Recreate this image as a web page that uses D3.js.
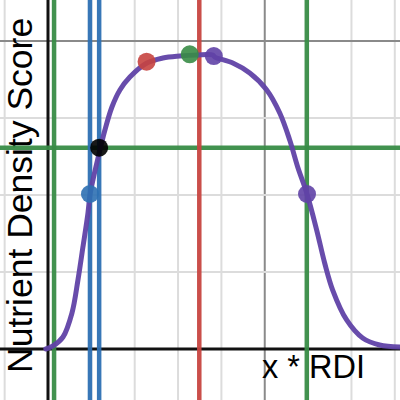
<!DOCTYPE html>
<html>
<head>
<meta charset="utf-8">
<script src="https://cdn.jsdelivr.net/npm/d3@7"></script>
<style>
html,body{margin:0;padding:0;background:#fff;}
svg{display:block;}
</style>
</head>
<body>
<svg id="chart" width="400" height="400"></svg>
<script>
// ---- data (graph units) ----
const curveX = [-0.05, 0.115, 0.346, 0.553, 0.691, 0.806, 0.922, 0.968, 1.037, 1.198, 1.313, 1.475, 1.659, 1.889, 2.281, 2.65, 3.041, 3.433, 3.802, 3.848, 4.263, 4.654, 5.046, 5.346, 5.576, 5.76, 5.968, 6.198, 6.382, 6.567, 6.889, 7.258, 7.65, 8.11];
const curveY = [0.0, 0.04, 0.156, 0.468, 0.896, 1.325, 1.766, 2.0, 2.195, 2.584, 2.844, 3.143, 3.364, 3.532, 3.714, 3.779, 3.805, 3.818, 3.818, 3.792, 3.714, 3.584, 3.364, 3.065, 2.714, 2.364, 2.026, 1.545, 1.117, 0.766, 0.377, 0.143, 0.052, 0.026];

const pointX = [0.968, 1.18, 2.274, 3.27, 3.825, 5.975];
const pointY = [2.013, 2.614, 3.731, 3.827, 3.805, 2.013];
const pointColor = ["#2d70b3", "#000000", "#c74440", "#388c46", "#6042a6", "#6042a6"];

const vLineX = [0.14, 0.968, 1.18, 3.49, 5.97];
const vLineColor = ["#388c46", "#2d70b3", "#2d70b3", "#c74440", "#388c46"];
const hLineY = [2.614];
const hLineColor = ["#388c46"];

const xGrid = [-1, 1, 2, 3, 4, 5, 6, 7, 8];
const xMajor = [5];
const yGrid = [1, 2, 3, 4];
const yMajor = [4];

const yLabel = "Nutrient Density Score";
const xLabel = "x * RDI";

// ---- scales ----
const W = 400, H = 400;
const pxX = 43.35, pxY = 77;
const x0 = 48, y0 = 349;
const x = d3.scaleLinear().domain([-x0 / pxX, (W - x0) / pxX]).range([0, W]);
const y = d3.scaleLinear().domain([-(H - y0) / pxY, y0 / pxY]).range([H, 0]);

const svg = d3.select("#chart");
svg.append("rect").attr("width", W).attr("height", H).attr("fill", "#fff");

// grid
const g = svg.append("g");
g.selectAll("line.vg").data(xGrid).join("line")
  .attr("x1", d => x(d)).attr("x2", d => x(d)).attr("y1", 0).attr("y2", H)
  .attr("stroke", d => xMajor.includes(d) ? "#8a8a8a" : "#dcdcdc")
  .attr("stroke-width", 2);
g.selectAll("line.hg").data(yGrid).join("line")
  .attr("y1", d => y(d)).attr("y2", d => y(d)).attr("x1", 0).attr("x2", W)
  .attr("stroke", d => yMajor.includes(d) ? "#8a8a8a" : "#dcdcdc")
  .attr("stroke-width", 2);

// axes
svg.append("line").attr("x1", x(0)).attr("x2", x(0)).attr("y1", 0).attr("y2", H)
  .attr("stroke", "#111").attr("stroke-width", 3);
svg.append("line").attr("y1", y(0)).attr("y2", y(0)).attr("x1", 0).attr("x2", W)
  .attr("stroke", "#111").attr("stroke-width", 3);

// labels
svg.append("text")
  .attr("transform", `translate(32,373) rotate(-90)`)
  .attr("font-family", "Liberation Sans, Arial, sans-serif")
  .attr("font-size", 35.5)
  .attr("fill", "#000")
  .text(yLabel);
svg.append("text")
  .attr("x", 262).attr("y", 378)
  .attr("font-family", "Liberation Sans, Arial, sans-serif")
  .attr("font-size", 32.5)
  .attr("fill", "#000")
  .text(xLabel);

// reference lines
svg.selectAll("line.hl").data(hLineY).join("line")
  .attr("y1", d => y(d)).attr("y2", d => y(d)).attr("x1", 0).attr("x2", W)
  .attr("stroke", (d, i) => hLineColor[i]).attr("stroke-width", 4.5).attr("stroke-opacity", 0.95);
svg.selectAll("line.vl").data(vLineX).join("line")
  .attr("x1", d => x(d)).attr("x2", d => x(d)).attr("y1", 0).attr("y2", H)
  .attr("stroke", (d, i) => vLineColor[i]).attr("stroke-width", 4.5).attr("stroke-opacity", 0.95);

// curve
const curveData = curveX.map((v, i) => [v, curveY[i]]);
svg.append("path").datum(curveData)
  .attr("d", d3.line().x(d => x(d[0])).y(d => y(d[1])).curve(d3.curveCatmullRom.alpha(0.5)))
  .attr("fill", "none").attr("stroke", "#6042a6").attr("stroke-width", 5)
  .attr("stroke-opacity", 0.95).attr("stroke-linecap", "round");

// points
svg.selectAll("circle.pt").data(pointX).join("circle")
  .attr("cx", d => x(d)).attr("cy", (d, i) => y(pointY[i])).attr("r", 9)
  .attr("fill", (d, i) => pointColor[i]).attr("fill-opacity", 0.9);
</script>
</body>
</html>
